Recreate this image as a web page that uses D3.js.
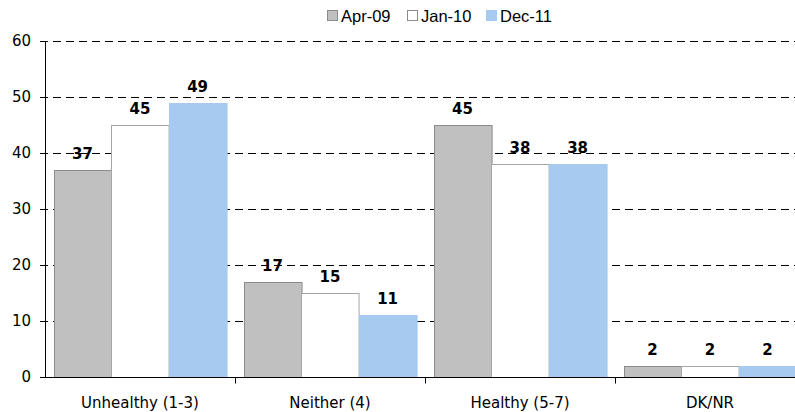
<!DOCTYPE html>
<html>
<head>
<meta charset="utf-8">
<script src="https://cdn.jsdelivr.net/npm/d3@7"></script>
<style>
  body { margin: 0; background: #fff; }
  svg { display: block; }
</style>
</head>
<body>
<div id="chart"></div>
<script>
const categories = ["Unhealthy (1-3)", "Neither (4)", "Healthy (5-7)", "DK/NR"];
const seriesNames = ["Apr-09", "Jan-10", "Dec-11"];
const apr09 = [37, 17, 45, 2];
const jan10 = [45, 15, 38, 2];
const dec11 = [49, 11, 38, 2];
const yTicks = [0, 10, 20, 30, 40, 50, 60];

const fills = { "Apr-09": "#c0c0c0", "Jan-10": "#ffffff", "Dec-11": "#a6caf0" };
const strokes = { "Apr-09": "#8c8c8c", "Jan-10": "#a6a6a6", "Dec-11": "#a6caf0" };

const width = 795, height = 412;
const margins = { top: 41, bottom: 35, left: 45, right: -10 };
const font = "DejaVu Sans, Verdana, sans-serif";

const svg = d3.select("#chart").append("svg")
  .attr("width", width)
  .attr("height", height);

const xScale = d3.scaleBand()
  .domain(categories)
  .range([margins.left, width - margins.right])
  .paddingInner(0)
  .paddingOuter(0);

const xInner = d3.scaleBand()
  .domain(seriesNames)
  .range([0, xScale.bandwidth()])
  .paddingOuter(0.15);

const yScale = d3.scaleLinear()
  .domain([0, 60])
  .range([height - margins.bottom, margins.top]);

const py = v => Math.round(yScale(v)) + 0.5;

// gridlines
svg.append("g")
  .selectAll("line")
  .data(yTicks.filter(d => d > 0))
  .join("line")
  .attr("x1", margins.left - 5)
  .attr("x2", width)
  .attr("y1", d => py(d))
  .attr("y2", d => py(d))
  .attr("stroke", "#000")
  .attr("stroke-dasharray", "8,5");

// y axis
svg.append("line")
  .attr("x1", margins.left + 0.5).attr("x2", margins.left + 0.5)
  .attr("y1", py(60)).attr("y2", py(0))
  .attr("stroke", "#000");

svg.append("g")
  .selectAll("line")
  .data(yTicks)
  .join("line")
  .attr("x1", margins.left - 5)
  .attr("x2", margins.left)
  .attr("y1", d => py(d))
  .attr("y2", d => py(d))
  .attr("stroke", "#000");

svg.append("g")
  .selectAll("text")
  .data(yTicks)
  .join("text")
  .attr("x", margins.left - 14)
  .attr("y", d => yScale(d))
  .attr("dy", "0.36em")
  .attr("text-anchor", "end")
  .attr("font-family", font)
  .attr("font-size", 15)
  .attr("fill", "#000")
  .text(d => d);

// bars
const rows = seriesNames.map((s, i) => ({ key: s, values: [apr09, jan10, dec11][i] }));

const groups = svg.append("g")
  .selectAll("g")
  .data(rows)
  .join("g");

groups.selectAll("rect")
  .data(r => r.values.map((v, j) => ({ key: r.key, cat: categories[j], value: v })))
  .join("rect")
  .attr("x", d => Math.round(xScale(d.cat) + xInner(d.key)) + 0.5)
  .attr("y", d => Math.round(yScale(d.value)) + 0.5)
  .attr("width", xInner.bandwidth())
  .attr("height", d => Math.round(yScale(0)) - Math.round(yScale(d.value)))
  .attr("fill", d => fills[d.key])
  .attr("stroke", d => strokes[d.key])
  .attr("stroke-width", 1);

groups.selectAll("text")
  .data(r => r.values.map((v, j) => ({ key: r.key, cat: categories[j], value: v })))
  .join("text")
  .attr("x", d => xScale(d.cat) + xInner(d.key) + xInner.bandwidth() / 2)
  .attr("y", d => yScale(d.value) - 11)
  .attr("text-anchor", "middle")
  .attr("font-family", font)
  .attr("font-weight", "bold")
  .attr("font-size", 15)
  .attr("fill", "#000")
  .text(d => d.value);

// x axis
svg.append("line")
  .attr("x1", margins.left)
  .attr("x2", width)
  .attr("y1", py(0))
  .attr("y2", py(0))
  .attr("stroke", "#000");

svg.append("g")
  .selectAll("line")
  .data(categories.slice(1))
  .join("line")
  .attr("x1", d => Math.round(xScale(d)) + 0.5)
  .attr("x2", d => Math.round(xScale(d)) + 0.5)
  .attr("y1", py(0))
  .attr("y2", py(0) + 6)
  .attr("stroke", "#000");

svg.append("g")
  .selectAll("text")
  .data(categories)
  .join("text")
  .attr("x", d => xScale(d) + xScale.bandwidth() / 2)
  .attr("y", 408)
  .attr("text-anchor", "middle")
  .attr("font-family", font)
  .attr("font-size", 15)
  .attr("fill", "#000")
  .text(d => d);

// legend
const legend = svg.append("g").attr("transform", "translate(327,16)");
const legendX = [0, 80, 159];
seriesNames.forEach((s, i) => {
  const g = legend.append("g").attr("transform", `translate(${legendX[i]},0)`);
  g.append("rect")
    .attr("x", 0.5).attr("y", -5.5)
    .attr("width", 10).attr("height", 10)
    .attr("fill", fills[s])
    .attr("stroke", s === "Dec-11" ? "#a6caf0" : "#8c8c8c");
  g.append("text")
    .attr("x", 14).attr("y", 5.5)
    .attr("font-family", "Liberation Sans, Arial, sans-serif")
    .attr("font-size", 16.5)
    .attr("fill", "#000")
    .text(s);
});
</script>
</body>
</html>
